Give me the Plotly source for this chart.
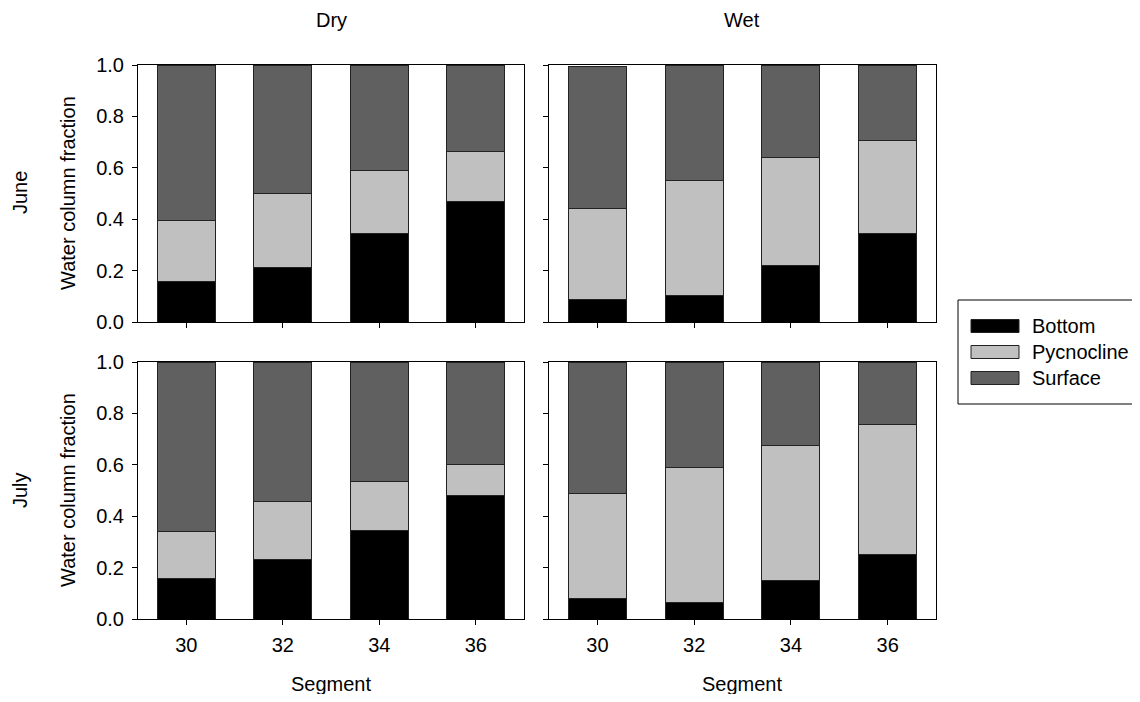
import plotly.graph_objects as go

# ---- data ----
segments = ["30", "32", "34", "36"]
layers = ["Bottom", "Pycnocline", "Surface"]
layer_colors = ["#000000", "#c0c0c0", "#606060"]

dry_june_bottom = [0.157, 0.211, 0.344, 0.467]
dry_june_pycno = [0.239, 0.288, 0.246, 0.196]
dry_june_surface = [0.604, 0.501, 0.410, 0.337]

wet_june_bottom = [0.086, 0.104, 0.221, 0.345]
wet_june_pycno = [0.354, 0.445, 0.421, 0.361]
wet_june_surface = [0.556, 0.449, 0.357, 0.293]

dry_july_bottom = [0.156, 0.231, 0.344, 0.480]
dry_july_pycno = [0.184, 0.227, 0.190, 0.122]
dry_july_surface = [0.660, 0.542, 0.466, 0.398]

wet_july_bottom = [0.078, 0.066, 0.149, 0.250]
wet_july_pycno = [0.410, 0.524, 0.527, 0.505]
wet_july_surface = [0.512, 0.410, 0.324, 0.245]

y_ticks = [0.0, 0.2, 0.4, 0.6, 0.8, 1.0]
col_titles = ["Dry", "Wet"]
row_titles = ["June", "July"]

# page body has an 8px margin; size the figure so the page fits the window
OFF = 8
W, H = 1140 - 2 * OFF, 702 - 2 * OFF

def px(x):
    return (x - OFF) / W

def py(y):
    return (H - (y - OFF)) / H

panels = [
    ("x", "y", [dry_june_bottom, dry_june_pycno, dry_june_surface]),
    ("x2", "y2", [wet_june_bottom, wet_june_pycno, wet_june_surface]),
    ("x3", "y3", [dry_july_bottom, dry_july_pycno, dry_july_surface]),
    ("x4", "y4", [wet_july_bottom, wet_july_pycno, wet_july_surface]),
]

fig = go.Figure()
for xa, ya, data in panels:
    for name, color, vals in zip(layers, layer_colors, data):
        fig.add_trace(go.Bar(
            x=segments, y=vals, name=name, xaxis=xa, yaxis=ya,
            marker=dict(color=color, line=dict(color="#222222", width=1)),
            width=0.6, showlegend=False,
        ))

font = dict(family="Liberation Sans, Arial, sans-serif", size=20, color="#000000")

xdom_left = [px(138), px(524)]
xdom_right = [px(549), px(936)]
ydom_top = [py(322), py(65)]
ydom_bot = [py(619), py(362)]

def xaxis(domain, anchor, labels):
    return dict(domain=domain, anchor=anchor, type="category",
                range=[-0.5, 3.5], showline=True, linecolor="#000000", linewidth=1,
                mirror=True, ticks="outside", ticklen=5, tickcolor="#000000",
                showticklabels=labels, showgrid=False, zeroline=False,
                tickfont=font, ticklabelstandoff=3, automargin=False)

def yaxis(domain, anchor, labels):
    return dict(domain=domain, anchor=anchor, range=[0, 1.0],
                tickvals=y_ticks, ticktext=[f"{v:.1f}" for v in y_ticks],
                showline=True, linecolor="#000000", linewidth=1, mirror=True,
                ticks="outside", ticklen=5, tickcolor="#000000",
                showticklabels=labels, showgrid=False, zeroline=False,
                tickfont=font, ticklabelstandoff=4, automargin=False)

fig.update_layout(
    width=W, height=H,
    margin=dict(l=0, r=0, t=0, b=0, pad=0, autoexpand=False),
    paper_bgcolor="white", plot_bgcolor="white",
    barmode="stack", font=font, showlegend=False,
    xaxis=xaxis(xdom_left, "y", False),
    yaxis=yaxis(ydom_top, "x", True),
    xaxis2=xaxis(xdom_right, "y2", False),
    yaxis2=yaxis(ydom_top, "x2", False),
    xaxis3=xaxis(xdom_left, "y3", True),
    yaxis3=yaxis(ydom_bot, "x3", True),
    xaxis4=xaxis(xdom_right, "y4", True),
    yaxis4=yaxis(ydom_bot, "x4", False),
)

ann = []
for t, xc in zip(col_titles, [331, 742]):
    ann.append(dict(text=t, x=px(xc), y=py(20), xref="paper", yref="paper",
                    showarrow=False, font=font, xanchor="center", yanchor="middle"))
for xc in [331, 742]:
    ann.append(dict(text="Segment", x=px(xc), y=py(684), xref="paper", yref="paper",
                    showarrow=False, font=font, xanchor="center", yanchor="middle"))
for t, yc in zip(row_titles, [193, 490]):
    ann.append(dict(text="Water column fraction", x=px(68), y=py(yc), xref="paper",
                    yref="paper", showarrow=False, font=font, textangle=-90,
                    xanchor="center", yanchor="middle"))
    ann.append(dict(text=t, x=px(20), y=py(yc), xref="paper", yref="paper",
                    showarrow=False, font=font, textangle=-90,
                    xanchor="center", yanchor="middle"))

shapes = []
# legend frame: open on the right (it runs off the picture edge)
lx0, lx1 = 958 - OFF, W + 2
ly0, ly1 = 300 - OFF, 404 - OFF
shapes.append(dict(type="path", xref="paper", yref="paper",
                   path=f"M {lx1/W},{(H-ly0)/H} L {lx0/W},{(H-ly0)/H} "
                        f"L {lx0/W},{(H-ly1)/H} L {lx1/W},{(H-ly1)/H}",
                   line=dict(color="#000000", width=1)))
for i, (name, color) in enumerate(zip(layers, layer_colors)):
    yc = 326 + i * 26
    shapes.append(dict(type="rect", xref="paper", yref="paper",
                       x0=px(971), x1=px(1019), y0=py(yc + 6.5), y1=py(yc - 6.5),
                       line=dict(color="#222222", width=1), fillcolor=color))
    ann.append(dict(text=name, x=px(1030), y=py(yc), xref="paper", yref="paper",
                    showarrow=False, font=font, xanchor="left", yanchor="middle"))

fig.update_layout(annotations=ann, shapes=shapes)
fig.write_html("out.html")
